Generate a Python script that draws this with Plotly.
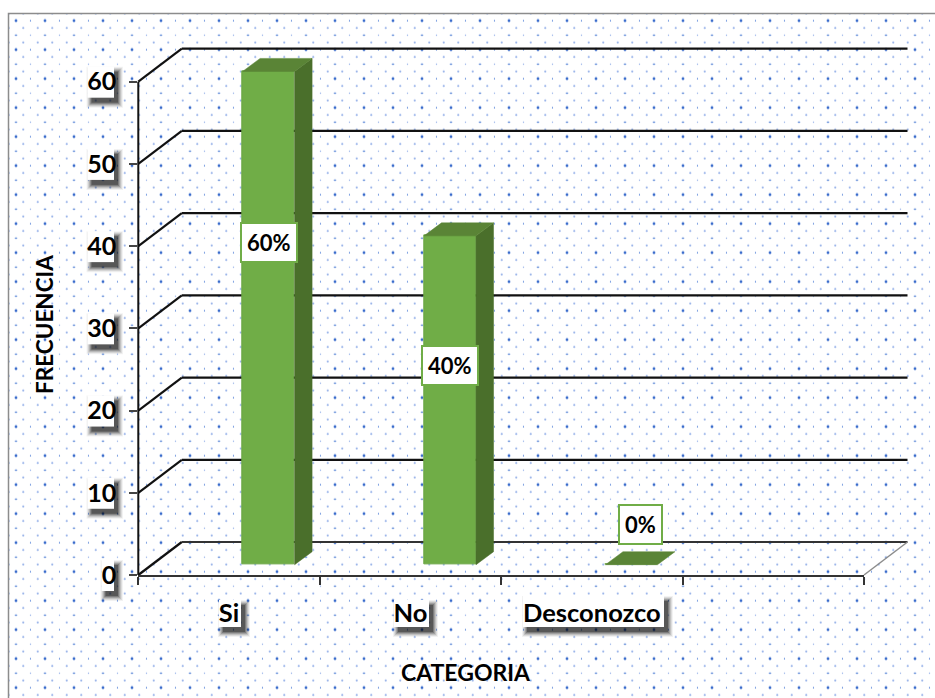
import base64
import plotly.graph_objects as go

categories = ["Si", "No", "Desconozco"]
frecuencia = [60, 40, 0]
porcentaje = ["60%", "40%", "0%"]
y_ticks = [0, 10, 20, 30, 40, 50, 60]

W, H = 935, 698
X0, X1, Y0, Y60 = 138.3, 864.0, 575.0, 81.7
SLOTS = 4
Y_TOP = 66
CAT_PX = (X1 - X0) / SLOTS
VAL_PX = (Y0 - Y60) / 60
FONT = "Lato"
INK = "#000000"

def xp(x): return X0 + x * CAT_PX
def yp(v): return Y0 - v * VAL_PX
def px(x): return x / W
def py(y): return 1 - y / H

WALL_DX, WALL_DY = 43.5, 33.0
BAR_DX, BAR_DY = 17.5 / CAT_PX, 13.0 / VAL_PX
BAR_W = 52.0 / CAT_PX
BAR_OFF = 104.3 / CAT_PX
BAR_BASE = 1.25

# dotted panel background
tile = """<svg xmlns='http://www.w3.org/2000/svg' width='927' height='685'>
<defs><pattern id='p' patternUnits='userSpaceOnUse' width='29' height='29' x='4' y='4.7'>
<circle cx='4' cy='3' r='1.4' fill='#3a6ccc'/><ellipse cx='18.5' cy='3' rx='0.6' ry='1.1' fill='#6f95de'/>
<circle cx='11.25' cy='10.25' r='1.1' fill='#93afe8'/><circle cx='25.75' cy='10.25' r='1.1' fill='#93afe8'/>
<ellipse cx='4' cy='17.5' rx='1.4' ry='0.7' fill='#5f8ad8'/><circle cx='18.5' cy='17.5' r='0.7' fill='#93afe8'/>
<circle cx='11.25' cy='24.75' r='1.1' fill='#93afe8'/><circle cx='25.75' cy='24.75' r='1.1' fill='#93afe8'/>
</pattern></defs><rect width='927' height='685' fill='url(#p)'/></svg>"""
tile_uri = "data:image/svg+xml;base64," + base64.b64encode(tile.encode()).decode()

shapes = []

def line(x0, y0, x1, y1, color="#111111", width=2.2):
    shapes.append(dict(type="line", xref="paper", yref="paper", layer="below",
                       x0=px(x0), y0=py(y0), x1=px(x1), y1=py(y1),
                       line=dict(color=color, width=width)))

def rect(x0, y0, x1, y1, fill, border=None):
    shapes.append(dict(type="rect", xref="paper", yref="paper", layer="below",
                       x0=px(x0), y0=py(y0), x1=px(x1), y1=py(y1), fillcolor=fill,
                       line=dict(color=border or "rgba(0,0,0,0)", width=1.5 if border else 0)))

def boxed(x0, y0, x1, y1):
    for g, a in ((5, 0.05), (4, 0.09), (3, 0.12), (2, 0.17), (1, 0.22), (0, 0.30)):
        rect(x0 + 4 - g, y0 + 5 - g, x1 + 4 + g, y1 + 5 + g, f"rgba(0,0,0,{a})")
    rect(x0, y0, x1, y1, "white")

# panel border
rect(8.5, 13.5, 960, 720, "rgba(0,0,0,0)", "#8c8c8c")

# y axis line
line(X0, yp(0), X0, yp(60), "#111111", 2)

# wall / floor gridlines
for v in y_ticks:
    if v == 0:
        line(xp(0), yp(0), xp(0) + WALL_DX, yp(0) - WALL_DY)
        line(xp(0) + WALL_DX, yp(0) - WALL_DY, X1 + WALL_DX, yp(0) - WALL_DY, "#333333")
        line(X1, yp(0), X1 + WALL_DX, yp(0) - WALL_DY, "#8c8c8c", 1.5)
    else:
        line(xp(0), yp(v), xp(0) + WALL_DX, yp(v) - WALL_DY)
        line(xp(0) + WALL_DX, yp(v) - WALL_DY, X1 + WALL_DX, yp(v) - WALL_DY)

# label plates with shadows
for v in y_ticks:
    c = yp(v) + 0.5
    boxed(101.5 if v == 0 else 87.5, c - 15.5, 114, c + 15.5)
boxed(219, 600, 241, 627)
boxed(394, 600, 429, 627)
boxed(523, 596, 664, 627)

fig = go.Figure()

x_left = [i + BAR_OFF for i in range(len(categories))]
fig.add_trace(go.Bar(
    x=[x + BAR_W / 2 for x in x_left], y=frecuencia, base=BAR_BASE, width=BAR_W,
    marker=dict(color="#70ad47", line=dict(color="#6aa543", width=1)),
    cliponaxis=False, hoverinfo="skip", showlegend=False))

for xl, val in zip(x_left, frecuencia):
    top = val + BAR_BASE
    xr = xl + BAR_W
    if val > 0:
        fig.add_trace(go.Scatter(
            x=[xr, xr + BAR_DX, xr + BAR_DX, xr, xr],
            y=[BAR_BASE, BAR_BASE + BAR_DY, top + BAR_DY, top, BAR_BASE],
            mode="lines", fill="toself", fillcolor="#4a6f2b", line=dict(color="#4a6f2b", width=0.5),
            cliponaxis=False, hoverinfo="skip", showlegend=False))
    fig.add_trace(go.Scatter(
        x=[xl, xr, xr + BAR_DX, xl + BAR_DX, xl],
        y=[top, top, top + BAR_DY, top + BAR_DY, top],
        mode="lines", fill="toself", fillcolor="#5a8436", line=dict(color="#5a8436", width=0.5),
        cliponaxis=False, hoverinfo="skip", showlegend=False))

for xl, val, txt in zip(x_left, frecuencia, porcentaje):
    fig.add_annotation(
        x=xl + BAR_W / 2 + (9 / CAT_PX if val == 0 else 0),
        y=val * 0.75 - 4.5 if val else 6.1,
        xref="x", yref="y", text=txt, showarrow=False,
        font=dict(family=FONT, size=22, color=INK, weight=700),
        bgcolor="white", bordercolor="#70ad47", borderwidth=2, borderpad=5)

fig.add_annotation(x=px(466), y=py(672), xref="paper", yref="paper", text="CATEGORIA",
                   xanchor="center", yanchor="middle",
                   showarrow=False, font=dict(family=FONT, size=23, color=INK, weight=700))
fig.add_annotation(x=px(44), y=py(325), xref="paper", yref="paper", text="FRECUENCIA",
                   xanchor="center", yanchor="middle",
                   textangle=-90, showarrow=False,
                   font=dict(family=FONT, size=22.5, color=INK, weight=700))

fig.update_layout(
    width=W, height=H, margin=dict(l=0, r=0, t=0, b=0, pad=0, autoexpand=False),
    paper_bgcolor="white", plot_bgcolor="rgba(0,0,0,0)",
    bargap=0, showlegend=False, shapes=shapes,
    images=[dict(source=tile_uri, xref="paper", yref="paper", x=px(8), y=py(13),
                 sizex=927 / W, sizey=685 / H, xanchor="left", yanchor="top",
                 sizing="stretch", layer="below")],
    xaxis=dict(domain=[px(X0), px(X1)], range=[0, SLOTS], showgrid=False, zeroline=False,
               automargin=False,
               tickmode="array", tickvals=[0.5, 1.5, 2.5], ticktext=categories, ticks="",
               showline=True, linecolor="#333333", linewidth=2,
               ticklabelstandoff=14,
               tickfont=dict(family=FONT, size=25.5, color=INK, weight=700),
               minor=dict(tickmode="array", tickvals=[0, 1, 2, 3, 4], ticks="outside",
                          ticklen=8, tickwidth=1.5, tickcolor="#333333", showgrid=False)),
    yaxis=dict(domain=[py(Y0), py(yp(Y_TOP))], range=[0, Y_TOP], showgrid=False, zeroline=False,
               automargin=False,
               tickmode="array", tickvals=y_ticks, ticks="outside", ticklen=8, tickwidth=1.5,
               tickcolor="#444444", showline=False,
               ticklabelstandoff=8,
               tickfont=dict(family=FONT, size=25, color=INK, weight=700)),
)

fig.write_html("out.html", config=dict(displayModeBar=False),
               post_script="document.body.style.margin='0';document.body.style.overflow='hidden';")
